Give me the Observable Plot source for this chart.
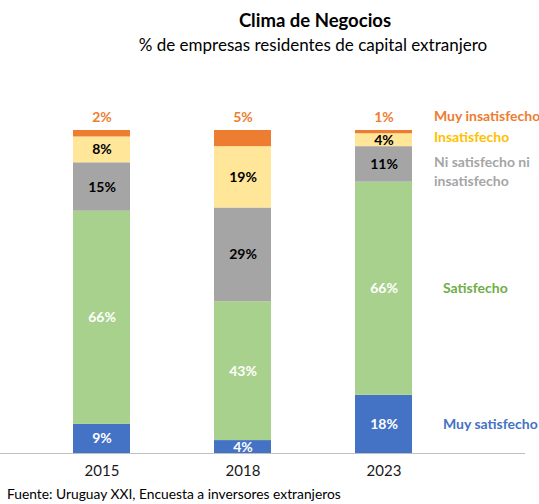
<!DOCTYPE html>
<html>
<head>
<meta charset="utf-8">
<script src="https://cdn.jsdelivr.net/npm/d3@7"></script>
<script src="https://cdn.jsdelivr.net/npm/@observablehq/plot@0.6"></script>
<style>
  body { margin: 0; background: #fff; font-family: Lato, "Open Sans", sans-serif; }
  #wrap { width: 539px; height: 504px; overflow: hidden; position: relative; }
  .title { position: absolute; left: 91px; width: 448px; top: 9px; text-align: center; font-weight: bold; font-size: 18.5px; color: #000; }
  .subtitle { position: absolute; left: 85px; width: 456px; top: 34px; text-align: center; font-size: 17px; color: #000; }
  #chart { position: absolute; left: 0; top: 60px; }
  .caption { position: absolute; left: 7px; top: 486px; font-size: 13.8px; line-height: 16px; color: #000; white-space: nowrap; }
</style>
</head>
<body>
<div id="wrap">
  <div class="title">Clima de Negocios</div>
  <div class="subtitle">% de empresas residentes de capital extranjero</div>
  <div id="chart"></div>
  <div class="caption">Fuente: Uruguay XXI, Encuesta a inversores extranjeros</div>
</div>
<script>
const years = ["2015", "2018", "2023"];
const categories = ["Muy satisfecho", "Satisfecho", "Ni satisfecho ni insatisfecho", "Insatisfecho", "Muy insatisfecho"];
const legendLabels = ["Muy satisfecho", "Satisfecho", "Ni satisfecho ni\ninsatisfecho", "Insatisfecho", "Muy insatisfecho"];
const muySatisfecho = [9, 4, 18];
const satisfecho = [66, 43, 66];
const niSatisfecho = [15, 29, 11];
const insatisfecho = [8, 19, 4];
const muyInsatisfecho = [2, 5, 1];

const series = [muySatisfecho, satisfecho, niSatisfecho, insatisfecho, muyInsatisfecho];
const fills = ["#4472C4", "#A9D18E", "#A5A5A5", "#FFE699", "#ED7D31"];
const labelFills = ["#FFFFFF", "#FFFFFF", "#000000", "#000000", "#ED7D31"];
const legendFills = ["#4472C4", "#70AD47", "#A5A5A5", "#FFC000", "#ED7D31"];

const rows = [];
years.forEach((yr, i) => {
  let acc = 0;
  categories.forEach((cat, k) => {
    const v = series[k][i];
    rows.push({year: yr, cat, k, value: v, y1: acc, y2: acc + v, mid: acc + v / 2});
    acc += v;
  });
});
const innerRows = rows.filter(d => d.k < 4);
const topRows = rows.filter(d => d.k === 4);
const lastRows = rows.filter(d => d.year === "2023").map(d => ({...d, label: legendLabels[d.k]}));

const legendStyle = {x: "year", text: "label", textAnchor: "start", fill: d => legendFills[d.k], fontWeight: "bold", fontSize: 14};

const chart = Plot.plot({
  width: 539,
  height: 430,
  marginTop: 70,
  marginBottom: 37,
  marginLeft: 0,
  marginRight: 0,
  style: {fontFamily: "Lato, 'Open Sans', sans-serif", background: "#fff"},
  x: {type: "band", domain: years, range: [30, 454], paddingInner: 0.596, paddingOuter: 0.3014, label: null},
  y: {domain: [0, 100], axis: null},
  marks: [
    Plot.barY(rows, {x: "year", y1: "y1", y2: "y2", fill: d => fills[d.k]}),
    Plot.ruleY([0], {stroke: "#BFBFBF", strokeWidth: 1.2, insetRight: 14}),
    Plot.axisX({tickSize: 0, tickPadding: 12, fontSize: 15, fill: "#1a1a1a"}),
    Plot.text(innerRows, {x: "year", y: "mid", text: d => d.value + "%", fill: d => labelFills[d.k], fontWeight: "bold", fontSize: 14}),
    Plot.text(topRows, {x: "year", y: "y2", dy: -13, text: d => d.value + "%", fill: d => labelFills[d.k], fontWeight: "bold", fontSize: 14}),
    Plot.text(lastRows.filter(d => d.k === 4), {...legendStyle, y: "y2", dx: 50, dy: -14}),
    Plot.text(lastRows.filter(d => d.k === 3), {...legendStyle, y: "mid", dx: 50, dy: -3}),
    Plot.text(lastRows.filter(d => d.k === 2), {...legendStyle, y: "mid", dx: 50, dy: 6, lineHeight: 1.4}),
    Plot.text(lastRows.filter(d => d.k < 2), {...legendStyle, y: "mid", dx: 59})
  ]
});
document.getElementById("chart").appendChild(chart);
</script>
</body>
</html>
